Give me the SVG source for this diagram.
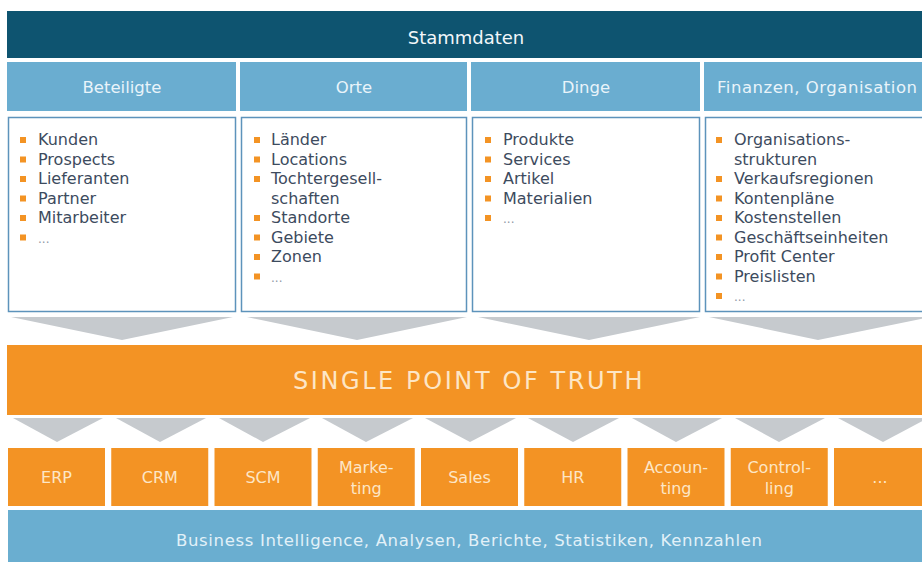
<svg xmlns="http://www.w3.org/2000/svg" width="922" height="562" viewBox="0 0 922 562">
  <style>
    text { font-family: "DejaVu Sans", Verdana, sans-serif; }
    .band-dark { fill: #0e5470; }
    .head { fill: #6aadd0; }
    .head-t { fill: #e9f4fa; font-size: 16.5px; text-anchor: middle; }
    .box { fill: #ffffff; stroke: #5d93bb; stroke-width: 1.5; }
    .item { fill: #3d4b5e; font-size: 16px; }
    .more { fill: #8e99a6; font-size: 12px; }
    .bullet { fill: #f39324; }
    .chev { fill: #c6cace; }
    .orange { fill: #f39324; }
    .app-t { fill: #fde6c6; font-size: 16px; text-anchor: middle; }
    .bi { fill: #6aaed0; }
    .bi-t { fill: #e2f1f8; font-size: 16.5px; text-anchor: middle; }
  </style>
  <defs>
    <rect id="b" width="6" height="6" class="bullet"/>
  </defs>

  <rect width="922" height="562" fill="#ffffff"/>

  <!-- master data header -->
  <g id="stammdaten">
    <rect class="band-dark" x="7" y="11" width="915" height="47"/>
    <text x="466" y="44" fill="#f2f7fa" font-size="18" text-anchor="middle">Stammdaten</text>
  </g>

  <!-- category columns -->
  <g id="beteiligte">
    <rect class="head" x="7" y="62" width="229" height="49"/>
    <text class="head-t" x="122" y="93">Beteiligte</text>
    <rect class="box" x="8.5" y="117.5" width="227" height="194"/>
    <use href="#b" x="20" y="137"/><text class="item" x="38" y="145">Kunden</text>
    <use href="#b" x="20" y="156.5"/><text class="item" x="38" y="164.5">Prospects</text>
    <use href="#b" x="20" y="176"/><text class="item" x="38" y="184">Lieferanten</text>
    <use href="#b" x="20" y="195.5"/><text class="item" x="38" y="203.5">Partner</text>
    <use href="#b" x="20" y="215"/><text class="item" x="38" y="223">Mitarbeiter</text>
    <use href="#b" x="20" y="234.5"/><text class="more" x="38" y="242.5">...</text>
  </g>

  <g id="orte">
    <rect class="head" x="240" y="62" width="227" height="49"/>
    <text class="head-t" x="354" y="93">Orte</text>
    <rect class="box" x="241.5" y="117.5" width="225" height="194"/>
    <use href="#b" x="254" y="137"/><text class="item" x="271" y="145">Länder</text>
    <use href="#b" x="254" y="156.5"/><text class="item" x="271" y="164.5">Locations</text>
    <use href="#b" x="254" y="176"/><text class="item" x="271" y="184">Tochtergesell-</text>
    <text class="item" x="271" y="203.5">schaften</text>
    <use href="#b" x="254" y="215"/><text class="item" x="271" y="223">Standorte</text>
    <use href="#b" x="254" y="234.5"/><text class="item" x="271" y="242.5">Gebiete</text>
    <use href="#b" x="254" y="254"/><text class="item" x="271" y="262">Zonen</text>
    <use href="#b" x="254" y="273.5"/><text class="more" x="271" y="281.5">...</text>
  </g>

  <g id="dinge">
    <rect class="head" x="471" y="62" width="229" height="49"/>
    <text class="head-t" x="586" y="93">Dinge</text>
    <rect class="box" x="472.5" y="117.5" width="227" height="194"/>
    <use href="#b" x="485" y="137"/><text class="item" x="503" y="145">Produkte</text>
    <use href="#b" x="485" y="156.5"/><text class="item" x="503" y="164.5">Services</text>
    <use href="#b" x="485" y="176"/><text class="item" x="503" y="184">Artikel</text>
    <use href="#b" x="485" y="195.5"/><text class="item" x="503" y="203.5">Materialien</text>
    <use href="#b" x="485" y="215"/><text class="more" x="503" y="223">...</text>
  </g>

  <g id="finanzen-organisation">
    <rect class="head" x="704" y="62" width="218" height="49"/>
    <text class="head-t" x="817" y="93" textLength="200" lengthAdjust="spacing">Finanzen, Organisation</text>
    <rect class="box" x="705.5" y="117.5" width="220" height="194"/>
    <use href="#b" x="716" y="137"/><text class="item" x="734" y="145">Organisations-</text>
    <text class="item" x="734" y="164.5">strukturen</text>
    <use href="#b" x="716" y="176"/><text class="item" x="734" y="184">Verkaufsregionen</text>
    <use href="#b" x="716" y="195.5"/><text class="item" x="734" y="203.5">Kontenpläne</text>
    <use href="#b" x="716" y="215"/><text class="item" x="734" y="223">Kostenstellen</text>
    <use href="#b" x="716" y="234.5"/><text class="item" x="734" y="242.5">Geschäftseinheiten</text>
    <use href="#b" x="716" y="254"/><text class="item" x="734" y="262">Profit Center</text>
    <use href="#b" x="716" y="273.5"/><text class="item" x="734" y="281.5">Preislisten</text>
    <use href="#b" x="716" y="293"/><text class="more" x="734" y="301">...</text>
  </g>

  <!-- flow chevrons -->
  <g id="connectors">
    <polygon class="chev" points="11,317 233,317 122,340"/>
    <polygon class="chev" points="247,317 467,317 357,340"/>
    <polygon class="chev" points="478,317 700,317 589,340"/>
    <polygon class="chev" points="709,317 930,317 818,340"/>

    <polygon class="chev" points="13,418 103,418 57,442"/>
    <polygon class="chev" points="116,418 206,418 160,442"/>
    <polygon class="chev" points="219,418 310,418 263,442"/>
    <polygon class="chev" points="322,418 413,418 366,442"/>
    <polygon class="chev" points="425,418 516,418 470,442"/>
    <polygon class="chev" points="528,418 619,418 573,442"/>
    <polygon class="chev" points="632,418 722,418 676,442"/>
    <polygon class="chev" points="735,418 825,418 779,442"/>
    <polygon class="chev" points="838,418 928,418 883,442"/>
  </g>

  <g id="single-point-of-truth">
    <rect class="orange" x="7" y="345" width="915" height="70"/>
    <text x="469" y="389" fill="#fde6c6" font-size="24" letter-spacing="2.6" text-anchor="middle">SINGLE POINT OF TRUTH</text>
  </g>

  <!-- application systems -->
  <g id="erp"><rect class="orange" x="8" y="448" width="97" height="58"/><text class="app-t" x="56.5" y="483">ERP</text></g>
  <g id="crm"><rect class="orange" x="111.25" y="448" width="97" height="58"/><text class="app-t" x="159.75" y="483">CRM</text></g>
  <g id="scm"><rect class="orange" x="214.5" y="448" width="97" height="58"/><text class="app-t" x="263" y="483">SCM</text></g>
  <g id="marketing"><rect class="orange" x="317.75" y="448" width="97" height="58"/><text class="app-t" x="366.25" y="473">Marke-</text><text class="app-t" x="366.25" y="494">ting</text></g>
  <g id="sales"><rect class="orange" x="421" y="448" width="97" height="58"/><text class="app-t" x="469.5" y="483">Sales</text></g>
  <g id="hr"><rect class="orange" x="524.25" y="448" width="97" height="58"/><text class="app-t" x="572.75" y="483">HR</text></g>
  <g id="accounting"><rect class="orange" x="627.5" y="448" width="97" height="58"/><text class="app-t" x="676" y="473">Accoun-</text><text class="app-t" x="676" y="494">ting</text></g>
  <g id="controlling"><rect class="orange" x="730.75" y="448" width="97" height="58"/><text class="app-t" x="779.25" y="473">Control-</text><text class="app-t" x="779.25" y="494">ling</text></g>
  <g id="weitere"><rect class="orange" x="834" y="448" width="88" height="58"/><text class="app-t" x="880" y="483" font-size="12">...</text></g>

  <g id="business-intelligence">
    <rect class="bi" x="8" y="510" width="914" height="52"/>
    <text class="bi-t" x="469" y="546" textLength="586" lengthAdjust="spacing">Business Intelligence, Analysen, Berichte, Statistiken, Kennzahlen</text>
  </g>
</svg>
